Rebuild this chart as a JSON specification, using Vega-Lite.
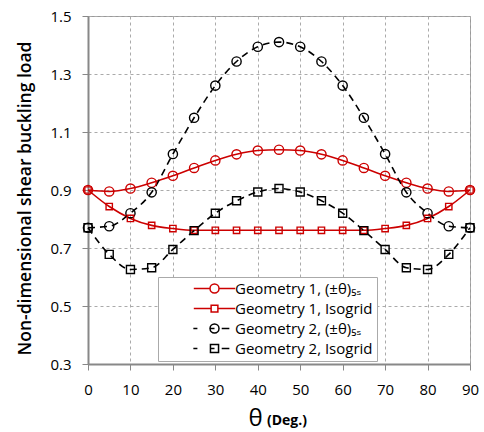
{
  "$schema": "https://vega.github.io/schema/vega-lite/v6.json",
  "width": 382,
  "height": 348,
  "autosize": {"type": "none"},
  "padding": {"left": 88, "top": 16, "right": 14, "bottom": 68},
  "background": "white",
  "title": {"text": "(Deg.)", "orient": "bottom", "anchor": "middle", "dx": 8, "dy": -20, "fontSize": 14, "fontWeight": "bold", "font": "Open Sans", "color": "black"},
  "config": {
    "font": "Open Sans",
    "view": {"stroke": "#999999", "strokeWidth": 1},
    "axis": {
      "labelFont": "Open Sans",
      "labelFontSize": 15,
      "labelColor": "black",
      "titleColor": "black",
      "titleFont": "Open Sans",
      "tickColor": "#888888",
      "tickSize": 6,
      "domainColor": "#888888",
      "domainWidth": 2,
      "grid": true,
      "gridColor": "#aaaaaa",
      "gridDash": [3, 3],
      "gridWidth": 1
    },
    "legend": {"labelFont": "Open Sans"}
  },
  "data": {
    "values": [
      {"theta": 0, "value": 0.900, "series": "Geometry 1, (±θ)₅ₛ"},
      {"theta": 5, "value": 0.895, "series": "Geometry 1, (±θ)₅ₛ"},
      {"theta": 10, "value": 0.905, "series": "Geometry 1, (±θ)₅ₛ"},
      {"theta": 15, "value": 0.925, "series": "Geometry 1, (±θ)₅ₛ"},
      {"theta": 20, "value": 0.949, "series": "Geometry 1, (±θ)₅ₛ"},
      {"theta": 25, "value": 0.976, "series": "Geometry 1, (±θ)₅ₛ"},
      {"theta": 30, "value": 1.002, "series": "Geometry 1, (±θ)₅ₛ"},
      {"theta": 35, "value": 1.023, "series": "Geometry 1, (±θ)₅ₛ"},
      {"theta": 40, "value": 1.036, "series": "Geometry 1, (±θ)₅ₛ"},
      {"theta": 45, "value": 1.039, "series": "Geometry 1, (±θ)₅ₛ"},
      {"theta": 50, "value": 1.036, "series": "Geometry 1, (±θ)₅ₛ"},
      {"theta": 55, "value": 1.023, "series": "Geometry 1, (±θ)₅ₛ"},
      {"theta": 60, "value": 1.002, "series": "Geometry 1, (±θ)₅ₛ"},
      {"theta": 65, "value": 0.976, "series": "Geometry 1, (±θ)₅ₛ"},
      {"theta": 70, "value": 0.949, "series": "Geometry 1, (±θ)₅ₛ"},
      {"theta": 75, "value": 0.925, "series": "Geometry 1, (±θ)₅ₛ"},
      {"theta": 80, "value": 0.905, "series": "Geometry 1, (±θ)₅ₛ"},
      {"theta": 85, "value": 0.895, "series": "Geometry 1, (±θ)₅ₛ"},
      {"theta": 90, "value": 0.900, "series": "Geometry 1, (±θ)₅ₛ"},
      {"theta": 0, "value": 0.900, "series": "Geometry 1, Isogrid"},
      {"theta": 5, "value": 0.843, "series": "Geometry 1, Isogrid"},
      {"theta": 10, "value": 0.802, "series": "Geometry 1, Isogrid"},
      {"theta": 15, "value": 0.778, "series": "Geometry 1, Isogrid"},
      {"theta": 20, "value": 0.767, "series": "Geometry 1, Isogrid"},
      {"theta": 25, "value": 0.761, "series": "Geometry 1, Isogrid"},
      {"theta": 30, "value": 0.761, "series": "Geometry 1, Isogrid"},
      {"theta": 35, "value": 0.761, "series": "Geometry 1, Isogrid"},
      {"theta": 40, "value": 0.761, "series": "Geometry 1, Isogrid"},
      {"theta": 45, "value": 0.761, "series": "Geometry 1, Isogrid"},
      {"theta": 50, "value": 0.761, "series": "Geometry 1, Isogrid"},
      {"theta": 55, "value": 0.761, "series": "Geometry 1, Isogrid"},
      {"theta": 60, "value": 0.761, "series": "Geometry 1, Isogrid"},
      {"theta": 65, "value": 0.761, "series": "Geometry 1, Isogrid"},
      {"theta": 70, "value": 0.767, "series": "Geometry 1, Isogrid"},
      {"theta": 75, "value": 0.778, "series": "Geometry 1, Isogrid"},
      {"theta": 80, "value": 0.802, "series": "Geometry 1, Isogrid"},
      {"theta": 85, "value": 0.843, "series": "Geometry 1, Isogrid"},
      {"theta": 90, "value": 0.900, "series": "Geometry 1, Isogrid"},
      {"theta": 0, "value": 0.770, "series": "Geometry 2, (±θ)₅ₛ"},
      {"theta": 5, "value": 0.775, "series": "Geometry 2, (±θ)₅ₛ"},
      {"theta": 10, "value": 0.820, "series": "Geometry 2, (±θ)₅ₛ"},
      {"theta": 15, "value": 0.892, "series": "Geometry 2, (±θ)₅ₛ"},
      {"theta": 20, "value": 1.024, "series": "Geometry 2, (±θ)₅ₛ"},
      {"theta": 25, "value": 1.149, "series": "Geometry 2, (±θ)₅ₛ"},
      {"theta": 30, "value": 1.260, "series": "Geometry 2, (±θ)₅ₛ"},
      {"theta": 35, "value": 1.343, "series": "Geometry 2, (±θ)₅ₛ"},
      {"theta": 40, "value": 1.394, "series": "Geometry 2, (±θ)₅ₛ"},
      {"theta": 45, "value": 1.410, "series": "Geometry 2, (±θ)₅ₛ"},
      {"theta": 50, "value": 1.394, "series": "Geometry 2, (±θ)₅ₛ"},
      {"theta": 55, "value": 1.343, "series": "Geometry 2, (±θ)₅ₛ"},
      {"theta": 60, "value": 1.260, "series": "Geometry 2, (±θ)₅ₛ"},
      {"theta": 65, "value": 1.149, "series": "Geometry 2, (±θ)₅ₛ"},
      {"theta": 70, "value": 1.024, "series": "Geometry 2, (±θ)₅ₛ"},
      {"theta": 75, "value": 0.892, "series": "Geometry 2, (±θ)₅ₛ"},
      {"theta": 80, "value": 0.820, "series": "Geometry 2, (±θ)₅ₛ"},
      {"theta": 85, "value": 0.775, "series": "Geometry 2, (±θ)₅ₛ"},
      {"theta": 90, "value": 0.770, "series": "Geometry 2, (±θ)₅ₛ"},
      {"theta": 0, "value": 0.770, "series": "Geometry 2, Isogrid"},
      {"theta": 5, "value": 0.678, "series": "Geometry 2, Isogrid"},
      {"theta": 10, "value": 0.626, "series": "Geometry 2, Isogrid"},
      {"theta": 15, "value": 0.632, "series": "Geometry 2, Isogrid"},
      {"theta": 20, "value": 0.695, "series": "Geometry 2, Isogrid"},
      {"theta": 25, "value": 0.760, "series": "Geometry 2, Isogrid"},
      {"theta": 30, "value": 0.820, "series": "Geometry 2, Isogrid"},
      {"theta": 35, "value": 0.863, "series": "Geometry 2, Isogrid"},
      {"theta": 40, "value": 0.893, "series": "Geometry 2, Isogrid"},
      {"theta": 45, "value": 0.905, "series": "Geometry 2, Isogrid"},
      {"theta": 50, "value": 0.893, "series": "Geometry 2, Isogrid"},
      {"theta": 55, "value": 0.863, "series": "Geometry 2, Isogrid"},
      {"theta": 60, "value": 0.820, "series": "Geometry 2, Isogrid"},
      {"theta": 65, "value": 0.760, "series": "Geometry 2, Isogrid"},
      {"theta": 70, "value": 0.695, "series": "Geometry 2, Isogrid"},
      {"theta": 75, "value": 0.632, "series": "Geometry 2, Isogrid"},
      {"theta": 80, "value": 0.626, "series": "Geometry 2, Isogrid"},
      {"theta": 85, "value": 0.678, "series": "Geometry 2, Isogrid"},
      {"theta": 90, "value": 0.770, "series": "Geometry 2, Isogrid"}
    ]
  },
  "encoding": {
    "x": {
      "field": "theta",
      "type": "quantitative",
      "scale": {"domain": [0, 90], "nice": false},
      "axis": {
        "values": [0, 10, 20, 30, 40, 50, 60, 70, 80, 90],
        "title": "θ",
        "titleFontSize": 24,
        "titleFontWeight": "normal",
        "titleX": 167,
        "titlePadding": 9,
        "labelPadding": 12,
        "labelFlush": false
      }
    },
    "y": {
      "field": "value",
      "type": "quantitative",
      "scale": {"domain": [0.3, 1.5], "nice": false, "zero": false},
      "axis": {
        "values": [0.3, 0.5, 0.7, 0.9, 1.1, 1.3, 1.5],
        "format": ".1f",
        "title": "Non-dimensional shear buckling load",
        "titleFontSize": 17.5,
        "titleFontWeight": 600,
        "titlePadding": 15,
        "titleY": 182,
        "labelPadding": 11
      }
    }
  },
  "layer": [
    {
      "transform": [{"filter": "indexof(datum.series,'Geometry 1')>=0"}],
      "mark": {"type": "line", "interpolate": "monotone", "strokeWidth": 1.6, "color": "#cc0000"},
      "encoding": {"detail": {"field": "series"}}
    },
    {
      "transform": [{"filter": "indexof(datum.series,'Geometry 2')>=0"}],
      "mark": {"type": "line", "interpolate": "monotone", "strokeWidth": 1.6, "strokeDash": [7, 5], "color": "#000000"},
      "encoding": {"detail": {"field": "series"}}
    },
    {
      "transform": [{"filter": "datum.series === 'Geometry 1, (±θ)₅ₛ'"}],
      "mark": {"type": "point", "shape": "circle", "filled": false, "strokeWidth": 1.4, "opacity": 1, "size": 85, "color": "#cc0000"}
    },
    {
      "transform": [{"filter": "datum.series === 'Geometry 2, (±θ)₅ₛ'"}],
      "mark": {"type": "point", "shape": "circle", "filled": false, "strokeWidth": 1.4, "opacity": 1, "size": 85, "color": "#000000"}
    },
    {
      "transform": [{"filter": "datum.series === 'Geometry 1, Isogrid'"}],
      "mark": {"type": "point", "shape": "square", "filled": false, "strokeWidth": 1.4, "opacity": 1, "size": 40, "color": "#cc0000"}
    },
    {
      "transform": [{"filter": "datum.series === 'Geometry 2, Isogrid'"}],
      "mark": {"type": "point", "shape": "square", "filled": false, "strokeWidth": 1.4, "opacity": 1, "size": 64, "color": "#000000"}
    },
    {
      "transform": [{"filter": "datum.theta < 0"}],
      "mark": {"type": "point", "filled": false, "size": 81, "strokeWidth": 1.5, "opacity": 1},
      "encoding": {
        "color": {
          "field": "series",
          "type": "nominal",
          "scale": {
            "domain": ["Geometry 1, (±θ)₅ₛ", "Geometry 1, Isogrid", "Geometry 2, (±θ)₅ₛ", "Geometry 2, Isogrid"],
            "range": ["#cc0000", "#cc0000", "#000000", "#000000"]
          },
          "legend": {
            "title": null,
            "orient": "none",
            "legendX": 70,
            "legendY": 261,
            "padding": 4,
            "rowPadding": 4,
            "symbolOffset": 45,
            "labelOffset": 13,
            "labelFontSize": 15,
            "labelLimit": 240,
            "labelColor": "black",
            "strokeColor": "#aaaaaa",
            "fillColor": "white",
            "symbolSize": 81,
            "symbolOpacity": 1,
            "symbolStrokeWidth": 1.5,
            "labelExpr": "datum.label + '\u00a0\u00a0\u00a0\u00a0\u00a0\u00a0\u00a0\u00a0\u00a0\u00a0\u00a0\u00a0'"
          }
        },
        "shape": {
          "field": "series",
          "type": "nominal",
          "scale": {
            "domain": ["Geometry 1, (±θ)₅ₛ", "Geometry 1, Isogrid", "Geometry 2, (±θ)₅ₛ", "Geometry 2, Isogrid"],
            "range": [
              "M-4.6,0H-1M1,0H4.6M1,0A1,1,0,1,1,-1,0A1,1,0,1,1,1,0",
              "M-4.6,0H-0.75M0.75,0H4.6M-0.75,-0.75H0.75V0.75H-0.75Z",
              "M-4.7,0H-3.8M-1,0H0M1.6,0H3.3M1,0A1,1,0,1,1,-1,0A1,1,0,1,1,1,0",
              "M-4.7,0H-3.8M-0.9,0H0M1.6,0H3.3M-0.9,-0.9H0.9V0.9H-0.9Z"
            ]
          },
          "legend": null
        }
      }
    }
  ]
}
